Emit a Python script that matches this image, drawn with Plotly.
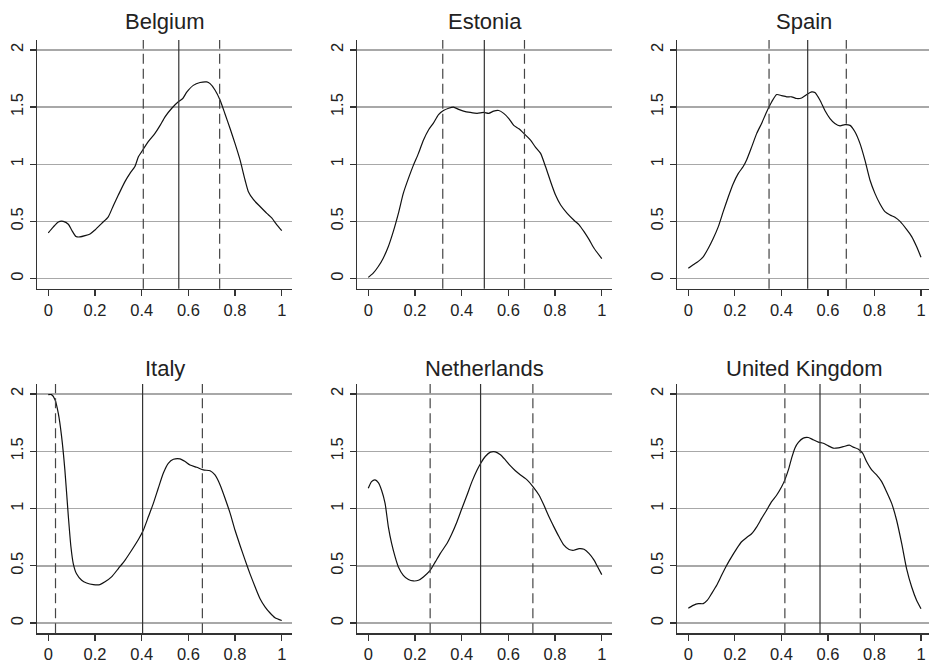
import plotly.graph_objects as go

countries = ["Belgium", "Estonia", "Spain", "Italy", "Netherlands", "United Kingdom"]

belgium_x = [0, 0.021, 0.043, 0.064, 0.086, 0.1, 0.119, 0.136, 0.179, 0.2, 0.229, 0.257, 0.279, 0.3, 0.329, 0.35, 0.371, 0.386, 0.4, 0.429, 0.457, 0.479, 0.5, 0.529, 0.557, 0.576, 0.593, 0.621, 0.65, 0.679, 0.693, 0.714, 0.736, 0.757, 0.779, 0.8, 0.821, 0.843, 0.857, 0.879, 0.907, 0.936, 0.957, 0.979, 1.0]
belgium_y = [0.40, 0.45, 0.495, 0.50, 0.475, 0.425, 0.367, 0.364, 0.39, 0.425, 0.483, 0.54, 0.64, 0.73, 0.85, 0.92, 0.98, 1.065, 1.11, 1.2, 1.27, 1.34, 1.415, 1.49, 1.546, 1.575, 1.63, 1.69, 1.715, 1.72, 1.705, 1.65, 1.56, 1.44, 1.31, 1.18, 1.04, 0.86, 0.76, 0.69, 0.63, 0.57, 0.53, 0.47, 0.42]

estonia_x = [0, 0.021, 0.043, 0.064, 0.086, 0.107, 0.129, 0.15, 0.172, 0.193, 0.215, 0.236, 0.258, 0.279, 0.301, 0.322, 0.344, 0.365, 0.387, 0.408, 0.437, 0.466, 0.494, 0.516, 0.537, 0.559, 0.58, 0.602, 0.623, 0.645, 0.666, 0.695, 0.716, 0.738, 0.759, 0.781, 0.802, 0.824, 0.852, 0.881, 0.903, 0.924, 0.946, 0.967, 1.0]
estonia_y = [0.01, 0.047, 0.105, 0.178, 0.28, 0.41, 0.57, 0.745, 0.876, 0.99, 1.095, 1.21, 1.3, 1.36, 1.435, 1.47, 1.49, 1.5, 1.48, 1.465, 1.453, 1.445, 1.453, 1.445, 1.465, 1.47, 1.445, 1.4, 1.34, 1.31, 1.27, 1.21, 1.15, 1.095, 0.98, 0.847, 0.73, 0.643, 0.57, 0.51, 0.47, 0.41, 0.34, 0.265, 0.175]

spain_x = [0, 0.021, 0.043, 0.064, 0.086, 0.107, 0.129, 0.15, 0.172, 0.193, 0.215, 0.236, 0.251, 0.272, 0.294, 0.315, 0.337, 0.358, 0.38, 0.401, 0.423, 0.444, 0.466, 0.487, 0.509, 0.53, 0.544, 0.566, 0.587, 0.609, 0.63, 0.652, 0.673, 0.695, 0.716, 0.738, 0.759, 0.781, 0.802, 0.824, 0.845, 0.867, 0.888, 0.91, 0.938, 0.96, 0.981, 1.0]
spain_y = [0.09, 0.12, 0.15, 0.19, 0.265, 0.35, 0.454, 0.585, 0.716, 0.83, 0.92, 0.98, 1.04, 1.15, 1.27, 1.357, 1.46, 1.545, 1.61, 1.6, 1.59, 1.59, 1.575, 1.58, 1.61, 1.633, 1.627, 1.56, 1.47, 1.4, 1.357, 1.336, 1.347, 1.34, 1.284, 1.18, 1.036, 0.86, 0.745, 0.652, 0.585, 0.556, 0.536, 0.5, 0.43, 0.367, 0.28, 0.186]

italy_x = [0, 0.014, 0.029, 0.043, 0.057, 0.071, 0.086, 0.097, 0.107, 0.121, 0.143, 0.164, 0.193, 0.221, 0.243, 0.271, 0.3, 0.329, 0.357, 0.386, 0.407, 0.429, 0.45, 0.471, 0.493, 0.514, 0.536, 0.564, 0.586, 0.607, 0.636, 0.664, 0.693, 0.714, 0.736, 0.757, 0.779, 0.8, 0.821, 0.843, 0.864, 0.886, 0.907, 0.929, 0.95, 0.971, 1.0]
italy_y = [1.994, 1.994, 1.95, 1.83, 1.63, 1.34, 0.93, 0.666, 0.52, 0.43, 0.374, 0.35, 0.336, 0.336, 0.36, 0.403, 0.476, 0.55, 0.636, 0.73, 0.81, 0.93, 1.045, 1.177, 1.31, 1.395, 1.43, 1.434, 1.41, 1.38, 1.36, 1.337, 1.33, 1.293, 1.206, 1.09, 0.958, 0.81, 0.68, 0.55, 0.43, 0.315, 0.213, 0.14, 0.088, 0.047, 0.023]

netherlands_x = [0, 0.014, 0.029, 0.043, 0.057, 0.072, 0.086, 0.1, 0.115, 0.129, 0.15, 0.172, 0.193, 0.215, 0.236, 0.265, 0.287, 0.308, 0.337, 0.358, 0.38, 0.401, 0.423, 0.444, 0.466, 0.483, 0.501, 0.523, 0.544, 0.566, 0.587, 0.609, 0.63, 0.652, 0.68, 0.706, 0.731, 0.752, 0.774, 0.795, 0.817, 0.838, 0.86, 0.881, 0.903, 0.924, 0.946, 0.967, 0.981, 1.0]
netherlands_y = [1.177, 1.235, 1.25, 1.226, 1.16, 1.045, 0.84, 0.695, 0.578, 0.49, 0.417, 0.38, 0.368, 0.374, 0.403, 0.46, 0.534, 0.607, 0.695, 0.78, 0.885, 1.0, 1.118, 1.235, 1.337, 1.4, 1.454, 1.492, 1.495, 1.47, 1.425, 1.372, 1.33, 1.293, 1.25, 1.19, 1.118, 1.03, 0.928, 0.84, 0.753, 0.68, 0.642, 0.636, 0.65, 0.645, 0.607, 0.55, 0.496, 0.423]

uk_x = [0, 0.021, 0.043, 0.064, 0.082, 0.1, 0.122, 0.143, 0.165, 0.186, 0.208, 0.229, 0.251, 0.272, 0.294, 0.315, 0.337, 0.358, 0.38, 0.401, 0.415, 0.43, 0.444, 0.458, 0.473, 0.494, 0.516, 0.537, 0.559, 0.58, 0.602, 0.623, 0.645, 0.666, 0.692, 0.709, 0.731, 0.749, 0.766, 0.788, 0.809, 0.831, 0.852, 0.874, 0.895, 0.917, 0.938, 0.96, 0.981, 1.0]
uk_y = [0.13, 0.155, 0.17, 0.17, 0.2, 0.257, 0.33, 0.417, 0.505, 0.578, 0.65, 0.71, 0.747, 0.78, 0.84, 0.914, 0.987, 1.06, 1.118, 1.19, 1.25, 1.337, 1.44, 1.527, 1.577, 1.615, 1.62, 1.6, 1.58, 1.57, 1.547, 1.527, 1.53, 1.54, 1.553, 1.536, 1.518, 1.483, 1.41, 1.337, 1.293, 1.235, 1.147, 1.045, 0.9, 0.695, 0.476, 0.315, 0.2, 0.126]

# quartile / median reference lines
q1_values = [0.407, 0.319, 0.347, 0.031, 0.265, 0.415]
median_values = [0.559, 0.497, 0.513, 0.404, 0.481, 0.566]
q3_values = [0.734, 0.669, 0.679, 0.660, 0.705, 0.739]

x_tickvals = [0, 0.2, 0.4, 0.6, 0.8, 1]
x_ticktext = ["0", "0.2", "0.4", "0.6", "0.8", "1"]
y_tickvals = [0, 0.5, 1, 1.5, 2]
y_ticktext = ["0", "0.5", "1", "1.5", "2"]

series_x = [belgium_x, estonia_x, spain_x, italy_x, netherlands_x, uk_x]
series_y = [belgium_y, estonia_y, spain_y, italy_y, netherlands_y, uk_y]

W, H = 929, 662
# pixel layout of plot areas
col_px = [(37.3, 291.8), (357.3, 611.8), (677.0, 929.0)]
col_ranges = [[-0.047, 1.043], [-0.047, 1.043], [-0.0486, 1.0344]]
col_title_x = [164.5, 484.5, 804.3]
row_px = [(40.0, 288.7), (384.0, 633.3)]
row_title_y = [21.0, 368.5]
y_range = [-0.089, 2.087]

font_family = "Liberation Sans, Arial, sans-serif"
text_color = "#222222"
axis_color = "#333333"
grid_color = "#a8a8a8"

fig = go.Figure()
layout = dict(
    width=W, height=H,
    margin=dict(l=0, r=0, t=0, b=0, autoexpand=False),
    paper_bgcolor="white", plot_bgcolor="white",
    showlegend=False,
    font=dict(family=font_family, color=text_color, size=16.5),
)
shapes = []
annotations = []

for i, name in enumerate(countries):
    r, c = divmod(i, 3)
    idx = "" if i == 0 else str(i + 1)
    xa, ya = "x" + idx, "y" + idx
    fig.add_trace(go.Scatter(
        x=series_x[i], y=series_y[i], mode="lines",
        line=dict(color="#111111", width=1.2, shape="spline", smoothing=0.6),
        xaxis=xa, yaxis=ya, hoverinfo="skip", cliponaxis=True,
    ))
    x0p, x1p = col_px[c]
    y0p, y1p = row_px[r]
    layout["xaxis" + idx] = dict(
        domain=[x0p / W, x1p / W], anchor=ya, range=col_ranges[c],
        tickvals=x_tickvals, ticktext=x_ticktext, ticks="outside", ticklen=6,
        tickcolor=axis_color, tickwidth=1.2, showline=True, linecolor=axis_color,
        linewidth=1.3, showgrid=False, zeroline=False, automargin=False,
        tickfont=dict(size=16.5, color=text_color), ticklabelstandoff=0,
    )
    layout["yaxis" + idx] = dict(
        domain=[1 - y1p / H, 1 - y0p / H], anchor=xa, range=y_range,
        tickvals=y_tickvals, ticktext=y_ticktext, ticks="outside", ticklen=6,
        tickcolor=axis_color, tickwidth=1.2, showline=True, linecolor=axis_color,
        linewidth=1.3, showgrid=True, gridcolor=grid_color, gridwidth=1.4,
        zeroline=False, tickangle=-90, automargin=False,
        tickfont=dict(size=16.5, color=text_color), ticklabelstandoff=0,
    )
    for val, dash, col in [(q1_values[i], "10px,5px", "#444444"),
                           (median_values[i], "solid", "#333333"),
                           (q3_values[i], "10px,5px", "#444444")]:
        shapes.append(dict(
            type="line", xref=xa, yref=ya + " domain",
            x0=val, x1=val, y0=0, y1=1,
            line=dict(color=col, width=1.2, dash=dash), layer="above",
        ))
    annotations.append(dict(
        text=name, xref="paper", yref="paper",
        x=col_title_x[c] / W, y=1 - row_title_y[r] / H,
        xanchor="center", yanchor="middle", showarrow=False,
        font=dict(size=22, color=text_color, family=font_family),
    ))

layout["shapes"] = shapes
layout["annotations"] = annotations
fig.update_layout(**layout)
fig.write_html(
    "out.html",
    config={"displayModeBar": False, "staticPlot": True},
    post_script="document.body.style.margin='0px';document.body.style.overflow='hidden';",
)
